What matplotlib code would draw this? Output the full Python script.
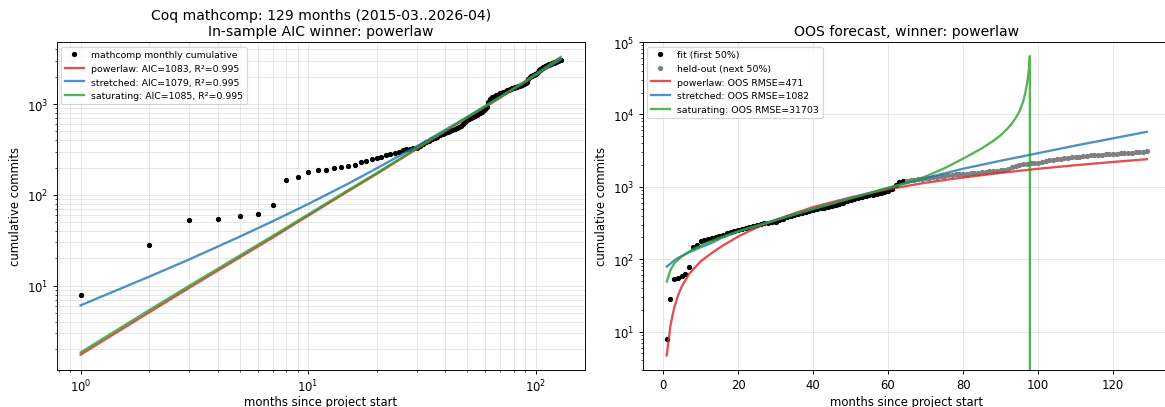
# Coq mathcomp 月度累计提交数：样本内拟合 + 样本外预测
import numpy as np
import matplotlib.pyplot as plt

# 每月累计提交数（第 1..129 个月）
commits = [8, 28, 53, 55, 58, 62, 77, 146, 156, 179,
           187, 190, 199, 203, 208, 216, 229, 239, 246, 254,
           264, 272, 282, 290, 300, 310, 317, 321, 327, 331,
           345, 362, 378, 395, 410, 422, 437, 452, 466, 480,
           492, 504, 518, 533, 548, 562, 578, 600, 632, 662,
           678, 694, 713, 737, 762, 778, 798, 826, 852, 878,
           925, 1045, 1150, 1200, 1207, 1228, 1250, 1272, 1293, 1312,
           1332, 1352, 1372, 1396, 1420, 1437, 1457, 1480, 1500, 1516,
           1527, 1541, 1551, 1562, 1590, 1611, 1630, 1650, 1668, 1682,
           1702, 1765, 1900, 1962, 2020, 2042, 2070, 2100, 2122, 2152,
           2200, 2270, 2340, 2381, 2420, 2452, 2490, 2530, 2561, 2590,
           2622, 2660, 2688, 2710, 2731, 2760, 2790, 2812, 2840, 2861,
           2882, 2903, 2930, 2951, 2972, 2990, 3012, 3040, 3080]
months = np.arange(1, len(commits) + 1)
n_fit = len(commits) // 2  # first 50%

# 样本内拟合曲线
ins_t = [1, 2, 3, 5, 7, 10, 15, 20, 30, 45, 65, 90, 129]
ins_powerlaw = [1.75, 5.1, 9.5, 20.5, 34, 59, 110, 170, 320, 600, 1050, 1740, 3150]
ins_stretched = [6.1, 12.6, 19.5, 34.7, 51.4, 79.4, 133, 196, 342, 615, 1069, 1757, 3100]
ins_saturating = [1.85, 5.4, 10, 21.5, 35.5, 61, 113, 174, 325, 610, 1070, 1790, 3300]

# 样本外预测曲线
oos_t = [1, 2, 3, 4, 5, 7, 10, 13, 16, 20, 25, 30, 40, 50, 60, 70, 80, 90, 100, 110, 120, 129]
oos_powerlaw = [4.7, 12.2, 21.5, 31.5, 42, 63, 93, 122, 155, 205, 275, 350, 525, 715, 925,
                1140, 1345, 1560, 1775, 1990, 2205, 2405]
oos_stretched = [79, 87, 96, 104, 111, 125, 146, 168, 202, 240, 288, 347, 490, 692, 968,
                 1318, 1778, 2291, 2917, 3715, 4677, 5754]
sat_t = [1, 2, 3, 5, 8, 12, 16, 20, 25, 30, 40, 50, 60, 65, 70, 75, 80, 85, 88, 90,
         92, 93, 94, 95, 96, 96.5, 97, 97.3, 97.6, 97.8, 98, 129]
oos_saturating = [49, 71, 88, 109, 138, 172, 205, 243, 290, 345, 500, 695, 968, 1140, 1390,
                  1800, 2450, 3400, 4300, 5150, 6500, 7500, 8900, 11000, 15000, 19000,
                  26000, 33000, 45000, 64000, -40000, -3000]

labels_ins = ['powerlaw: AIC=1083, R²=0.995',
              'stretched: AIC=1079, R²=0.995',
              'saturating: AIC=1085, R²=0.995']
labels_oos = ['powerlaw: OOS RMSE=471',
              'stretched: OOS RMSE=1082',
              'saturating: OOS RMSE=31703']
colors = ['tab:red', 'tab:blue', 'tab:green']

dpi = 84
fig = plt.figure(figsize=(1165 / dpi, 408 / dpi), dpi=dpi)
ax1 = fig.add_axes([0.0486, 0.0919, 0.4534, 0.8027])
ax2 = fig.add_axes([0.5517, 0.0919, 0.4534, 0.8027])

# 左图：对数-对数
ax1.plot(months, commits, 'o', color='black', ms=3.5, label='mathcomp monthly cumulative')
for ys, lab, c in zip([ins_powerlaw, ins_stretched, ins_saturating], labels_ins, colors):
    ax1.plot(ins_t, ys, '-', color=c, lw=2, alpha=0.8, label=lab)
ax1.set_xscale('log')
ax1.set_yscale('log')
ax1.grid(True, which='both', alpha=0.3)
ax1.set_xlabel('months since project start', labelpad=0.5)
ax1.set_ylabel('cumulative commits')
ax1.set_title('Coq mathcomp: 129 months (2015-03..2026-04)\nIn-sample AIC winner: powerlaw')
ax1.legend(loc='upper left', fontsize=8)

# 右图：样本外预测
ax2.plot(months[:n_fit], commits[:n_fit], 'o', color='black', ms=3.5, label='fit (first 50%)')
ax2.plot(months[n_fit:], commits[n_fit:], 'o', color='gray', ms=3.5, label='held-out (next 50%)')
ax2.plot(oos_t, oos_powerlaw, '-', color=colors[0], lw=2, alpha=0.8, label=labels_oos[0])
ax2.plot(oos_t, oos_stretched, '-', color=colors[1], lw=2, alpha=0.8, label=labels_oos[1])
ax2.plot(sat_t, oos_saturating, '-', color=colors[2], lw=2, alpha=0.8, label=labels_oos[2])
ax2.set_yscale('log', nonpositive='clip')
ax2.set_ylim(3.0, 1e5)
ax2.grid(True, alpha=0.3)
ax2.set_xlabel('months since project start')
ax2.set_ylabel('cumulative commits')
ax2.set_title('OOS forecast, winner: powerlaw')
ax2.legend(loc='upper left', fontsize=8)

plt.savefig('out.png', dpi=dpi)
